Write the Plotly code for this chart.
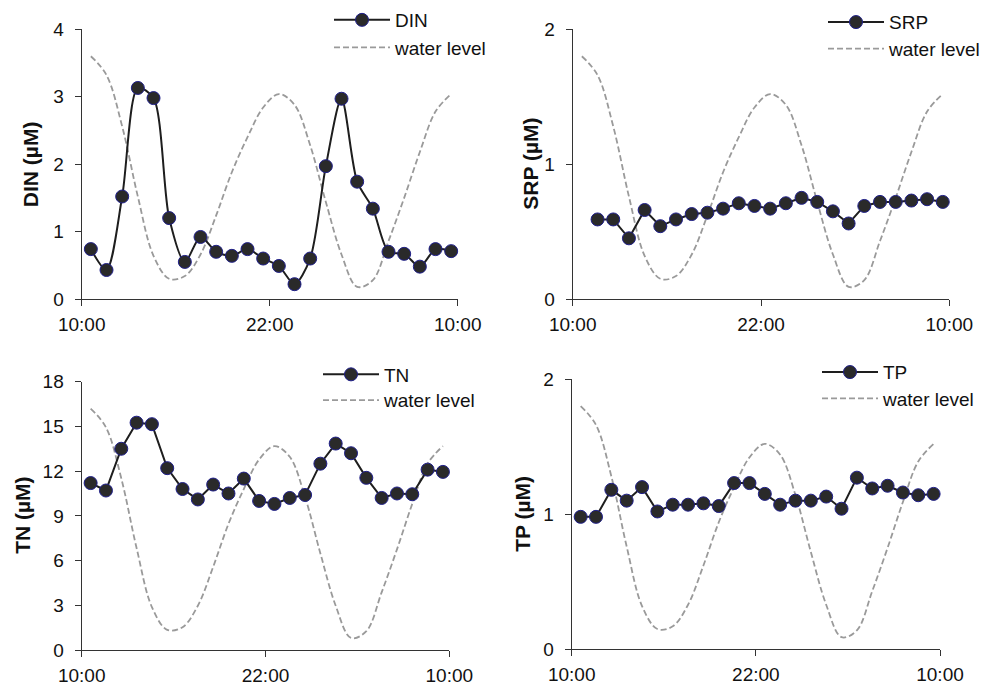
import datetime as dt
import plotly.graph_objects as go

# Hourly sampling times over one tidal day (10:35 to 09:35 next morning)
sample_times = ["10:35", "11:35", "12:35", "13:35", "14:35", "15:35", "16:35", "17:35",
                "18:35", "19:35", "20:35", "21:35", "22:35", "23:35", "00:35", "01:35",
                "02:35", "03:35", "04:35", "05:35", "06:35", "07:35", "08:35", "09:35"]

din = [0.74, 0.43, 1.52, 3.13, 2.98, 1.20, 0.55, 0.92, 0.70, 0.64, 0.74, 0.60,
       0.49, 0.22, 0.60, 1.97, 2.97, 1.74, 1.34, 0.70, 0.67, 0.48, 0.74, 0.71]

# SRP has no value for the first sampling time
srp = [0.59, 0.59, 0.45, 0.66, 0.54, 0.59, 0.63, 0.64, 0.67, 0.71, 0.69, 0.67,
       0.71, 0.75, 0.72, 0.65, 0.56, 0.69, 0.72, 0.72, 0.73, 0.74, 0.72]

tn = [11.2, 10.7, 13.5, 15.25, 15.15, 12.2, 10.8, 10.1, 11.1, 10.5, 11.5, 10.0,
      9.8, 10.2, 10.4, 12.5, 13.85, 13.2, 11.55, 10.2, 10.5, 10.45, 12.1, 11.95]

tp = [0.98, 0.98, 1.18, 1.10, 1.20, 1.02, 1.07, 1.07, 1.08, 1.06, 1.23, 1.23,
      1.15, 1.07, 1.10, 1.10, 1.13, 1.04, 1.27, 1.19, 1.21, 1.16, 1.14, 1.15]

# Relative water level (plotted on a hidden 0-2 scale)
water_level = [1.80, 1.66, 1.28, 0.76, 0.32, 0.15, 0.17, 0.33, 0.62, 0.94, 1.20, 1.42,
               1.52, 1.44, 1.14, 0.72, 0.33, 0.09, 0.14, 0.43, 0.75, 1.09, 1.39, 1.52]

tick_labels = ["10:00", "22:00", "10:00"]


def to_datetime(hhmm):
    h, m = (int(p) for p in hhmm.split(":"))
    day = 1 if h >= 10 else 2
    return dt.datetime(2000, 1, day, h, m)


def tick_datetime(hhmm, day):
    h, m = (int(p) for p in hhmm.split(":"))
    return dt.datetime(2000, 1, day, h, m)


t_all = [to_datetime(t) for t in sample_times]
tick_vals = [tick_datetime(tick_labels[0], 1), tick_datetime(tick_labels[1], 1),
             tick_datetime(tick_labels[2], 2)]

FONT = "Liberation Sans, Arial, Helvetica, sans-serif"
AXIS_COLOR = "#333333"
LINE_COLOR = "#1e1e1e"
MARKER_FILL = "#2a2a2a"
MARKER_EDGE = "#1f1f8a"
WATER_COLOR = "#9a9a9a"
W, H = 987, 685

# Pixel layout of each panel: plot box, y-title centre, legend line start and row centres
panels = [
    dict(name="DIN", times=t_all, values=din, ymax=4, dtick=1, spline=True,
         px=(81.7, 457.7), py=(29.3, 299.0), title_x=30.0,
         legend_x=334, legend_rows=(20.5, 48.0)),
    dict(name="SRP", times=t_all[1:], values=srp, ymax=2, dtick=1, spline=False,
         px=(572.7, 949.3), py=(29.3, 299.0), title_x=530.5,
         legend_x=828, legend_rows=(22.7, 49.3)),
    dict(name="TN", times=t_all, values=tn, ymax=18, dtick=3, spline=False,
         px=(81.7, 449.3), py=(381.7, 650.0), title_x=23.0,
         legend_x=323, legend_rows=(375.0, 400.7)),
    dict(name="TP", times=t_all, values=tp, ymax=2, dtick=1, spline=False,
         px=(571.7, 940.0), py=(379.0, 649.3), title_x=521.7,
         legend_x=822, legend_rows=(372.7, 399.0)),
]

LEGEND_ROW_OFFSET = 19.5   # distance from legend top to the centre of its single row

fig = go.Figure()
layout = dict(
    width=W, height=H, margin=dict(l=0, r=0, t=0, b=0, autoexpand=False),
    paper_bgcolor="white", plot_bgcolor="white",
    font=dict(family=FONT, size=19, color="#111111"),
    showlegend=True,
)
annotations = []
legend_count = 0


def next_legend():
    global legend_count
    legend_count += 1
    return "legend" if legend_count == 1 else f"legend{legend_count}"


def legend_box(x_line, y_row):
    return dict(
        x=(x_line - 5) / W, y=1 - (y_row - LEGEND_ROW_OFFSET) / H,
        xanchor="left", yanchor="top", bgcolor="rgba(0,0,0,0)",
        font=dict(size=19), itemwidth=56,
    )


for i, p in enumerate(panels, start=1):
    xa = f"x{i}"
    y_water = f"y{i}"          # hidden primary axis carrying the water level
    y_main = f"y{i + 4}"       # visible concentration axis drawn on top

    xdom = [p["px"][0] / W, p["px"][1] / W]
    ydom = [1 - p["py"][1] / H, 1 - p["py"][0] / H]

    leg_a = next_legend()
    leg_b = next_legend()
    layout[leg_a] = legend_box(p["legend_x"], p["legend_rows"][0])
    layout[leg_b] = legend_box(p["legend_x"], p["legend_rows"][1])

    fig.add_trace(go.Scatter(
        x=p["times"], y=p["values"], name=p["name"], mode="lines+markers",
        line=dict(color=LINE_COLOR, width=2, shape="spline" if p["spline"] else "linear",
                  smoothing=0.8),
        marker=dict(size=13, color=MARKER_FILL, line=dict(color=MARKER_EDGE, width=1)),
        xaxis=xa, yaxis=y_main, legend=leg_a, cliponaxis=False,
    ))
    fig.add_trace(go.Scatter(
        x=t_all, y=water_level, name="water level", mode="lines",
        line=dict(color=WATER_COLOR, width=1.8, dash="6px,3px", shape="spline", smoothing=1.0),
        xaxis=xa, yaxis=y_water, legend=leg_b,
    ))

    layout[f"xaxis{i}"] = dict(
        domain=xdom, anchor=f"y{i}", type="date", automargin=False,
        range=[tick_vals[0], tick_vals[2]],
        tickvals=tick_vals, ticktext=tick_labels,
        ticks="outside", ticklen=6, tickwidth=1.3, tickcolor=AXIS_COLOR,
        showline=True, linecolor=AXIS_COLOR, linewidth=1.3,
        showgrid=False, zeroline=False, tickfont=dict(size=19),
        ticklabelstandoff=2,
    )
    layout[f"yaxis{i}"] = dict(
        domain=ydom, anchor=xa, range=[0, 2], visible=False, fixedrange=True,
        automargin=False,
    )
    layout[f"yaxis{i + 4}"] = dict(
        overlaying=f"y{i}", anchor=xa, side="left", automargin=False,
        range=[0, p["ymax"]], dtick=p["dtick"], tick0=0,
        ticks="outside", ticklen=6, tickwidth=1.3, tickcolor=AXIS_COLOR,
        showline=True, linecolor=AXIS_COLOR, linewidth=1.3,
        showgrid=False, zeroline=False, tickfont=dict(size=19),
        ticklabelstandoff=7,
    )
    annotations.append(dict(
        text=f"<b>{p['name']} (µM)</b>", textangle=-90, showarrow=False,
        xref="paper", yref="paper",
        x=p["title_x"] / W, y=1 - (p["py"][0] + p["py"][1]) / 2 / H,
        xanchor="center", yanchor="middle", font=dict(size=21),
    ))

layout["annotations"] = annotations
fig.update_layout(**layout)
fig.write_html("out.html")
